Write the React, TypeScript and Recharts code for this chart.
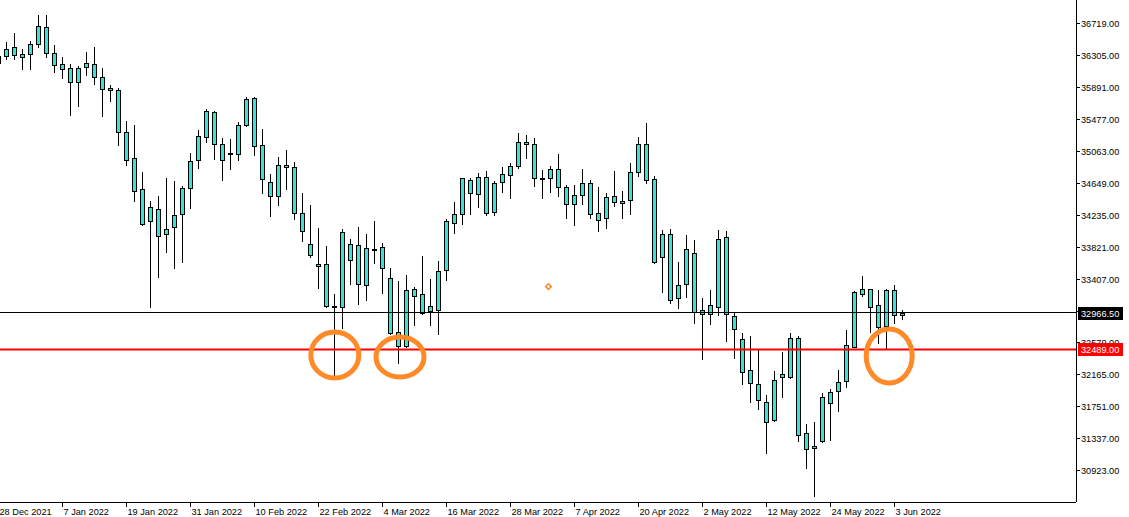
import React from 'react';
import { ComposedChart, Bar, XAxis, YAxis, ReferenceLine, ReferenceDot } from 'recharts';

const openPrices = [
  36200, 36287, 36404, 36275, 36313, 36676, 36663, 36326, 36184, 36132,
  35951, 36197, 36184, 36015, 35873, 35847, 35303, 34966, 34564, 34331,
  34305, 33981, 34072, 34240, 34577, 34940, 35575, 35562, 35147, 35018,
  35018, 35730, 35743, 35134, 34473, 34473, 34875, 34849, 34253, 33851,
  33592, 33592, 33042, 33035, 33851, 33838, 33320, 33790, 33812, 33411,
  32530, 32530, 33268, 33204, 32983, 32996, 33515, 34124, 34240, 34512,
  34719, 34719, 34266, 34655, 34745, 34862, 35173, 35147, 34702, 34823,
  34823, 34590, 34370, 34642, 34642, 34162, 34188, 34473, 34383, 34421,
  35147, 35147, 34694, 33981, 33981, 33152, 33786, 33735, 32944, 32944,
  33916, 33942, 32918, 32620, 32219, 32037, 31545, 31571, 32128, 32633,
  32633, 31402, 31208, 31299, 31791, 31947, 32076, 32525, 33268, 33268,
  32776, 32789, 33255, 32931,
];
const highPrices = [
  36310, 36473, 36589, 36378, 36482, 36823, 36823, 36434, 36278, 36188,
  36158, 36343, 36404, 36132, 35912, 35873, 35445, 35393, 34784, 34408,
  34473, 34707, 34668, 34603, 35031, 35329, 35601, 35575, 35225, 35212,
  35432, 35756, 35756, 35342, 34758, 34979, 35073, 34914, 34521, 34361,
  34059, 33829, 33204, 34046, 33916, 34072, 33981, 34150, 33864, 33540,
  33380, 33450, 33294, 33696, 33398, 33631, 34175, 34396, 34715, 34706,
  34771, 34797, 34668, 34849, 34901, 35290, 35264, 35225, 34810, 34862,
  35018, 34616, 34616, 34823, 34681, 34590, 34512, 34797, 34538, 34901,
  35238, 35419, 34733, 34033, 34046, 33618, 33968, 33903, 33152, 33255,
  34033, 34020, 32970, 32698, 32659, 32491, 31895, 32206, 32452, 32698,
  32659, 31519, 31545, 31921, 31972, 32219, 32737, 33242, 33441, 33275,
  33255, 33268, 33320, 32996,
];
const lowPrices = [
  36180, 36256, 36256, 36127, 36127, 36412, 36282, 36088, 36007, 35531,
  35643, 36049, 35932, 35514, 35712, 35142, 34883, 34416, 34100, 33035,
  33424, 33748, 33540, 33618, 34318, 34836, 35173, 34953, 34681, 34823,
  34940, 35380, 35005, 34512, 34214, 34357, 34564, 34175, 33898, 33683,
  33289, 33035, 32162, 32763, 33333, 33074, 33126, 33605, 33217, 32690,
  32310, 32520, 32802, 32950, 32802, 32685, 33385, 33994, 34111, 34240,
  34331, 34227, 34227, 34525, 34447, 34836, 34966, 34603, 34447, 34525,
  34473, 34188, 34098, 34370, 34188, 34020, 34059, 34344, 34188, 34240,
  34733, 34642, 33605, 33237, 33087, 33022, 33165, 32827, 32361, 32815,
  32931, 32594, 32374, 32037, 31804, 31713, 31143, 31560, 31869, 32120,
  31298, 30949, 30590, 31290, 31312, 31687, 31998, 32515, 33178, 32711,
  32568, 32504, 32828, 32879,
];
const closePrices = [
  36290, 36386, 36300, 36313, 36443, 36443, 36326, 36171, 36119, 35951,
  36132, 36145, 36015, 35860, 35847, 35303, 34940, 34538, 34111, 34150,
  33955, 34046, 34227, 34577, 34927, 35251, 35238, 35147, 34940, 35031,
  35393, 35393, 35121, 34694, 34655, 34875, 34849, 34253, 34020, 33709,
  33566, 33048, 33055, 34007, 33644, 33333, 33799, 33780, 33540, 32698,
  32711, 33255, 33178, 32957, 33048, 33501, 34150, 34240, 34706, 34681,
  34499, 34253, 34642, 34759, 34862, 35173, 35147, 34707, 34712, 34707,
  34590, 34370, 34486, 34486, 34240, 34253, 34460, 34396, 34408, 34784,
  34784, 34681, 33618, 33683, 33126, 33320, 33333, 32970, 32996, 33061,
  33035, 32944, 32750, 32193, 32050, 31830, 31804, 32089, 32167, 32128,
  31376, 31195, 31234, 31869, 31934, 32063, 32543, 33235, 33204, 33035,
  33061, 33255, 32931, 32966.5,
];

// Date labels shown under every 8th bar
const dateTickBars = [0, 8, 16, 24, 32, 40, 48, 56, 64, 72, 80, 88, 96, 104, 112];
const dateTickLabels = [
  '28 Dec 2021', '7 Jan 2022', '19 Jan 2022', '31 Jan 2022', '10 Feb 2022',
  '22 Feb 2022', '4 Mar 2022', '16 Mar 2022', '28 Mar 2022', '7 Apr 2022',
  '20 Apr 2022', '2 May 2022', '12 May 2022', '24 May 2022', '3 Jun 2022',
];

const priceTicks = [
  36719, 36305, 35891, 35477, 35063, 34649, 34235, 33821, 33407, 32993,
  32579, 32165, 31751, 31337, 30923,
];

const lastPrice = 32966.5;
const levelPrice = 32489;

// hand-drawn annotation ellipses (bar index, price)
const circleBars = [42.1, 50.25, 111.4];
const circlePrices = [32417, 32391, 32404];
const markerBar = 68.8;
const markerPrice = 33304;

const FONT = "'Liberation Sans', Arial, sans-serif";
const FONT_SIZE = 9.2;
const CANDLE_FILL = '#40E0D0';
const ORANGE = '#FF8A28';

const data = openPrices.map((o, i) => ({
  idx: i,
  range: [lowPrices[i], highPrices[i]],
  open: o,
  high: highPrices[i],
  low: lowPrices[i],
  close: closePrices[i],
}));

const Candle = (props: any) => {
  const { x, y, width, height, payload } = props;
  if (x == null || y == null || !payload) return null;
  const { high, low, open, close } = payload;
  const yTop = Math.min(y, y + height);
  const h = Math.abs(height);
  const px = (v: number) => (high === low ? yTop : yTop + ((high - v) / (high - low)) * h);
  const cx = Math.round(x + width / 2);
  const top = Math.round(px(Math.max(open, close)));
  const bot = Math.round(px(Math.min(open, close)));
  return (
    <g shapeRendering="crispEdges">
      <line x1={cx + 0.5} x2={cx + 0.5} y1={Math.round(yTop)} y2={Math.round(yTop + h) + 1} stroke="#000" strokeWidth={1} />
      <rect x={cx - 1.5} y={top + 0.5} width={4} height={Math.max(bot - top, 1)} fill={CANDLE_FILL} stroke="#000" strokeWidth={1} />
    </g>
  );
};

const XTick = (props: any) => {
  const { x, y, payload } = props;
  const k = dateTickBars.indexOf(payload.value);
  const label = k >= 0 ? dateTickLabels[k] : '';
  const xx = Math.round(x);
  return (
    <g>
      <line x1={xx + 0.5} x2={xx + 0.5} y1={y} y2={y + 5} stroke="#000" strokeWidth={1} shapeRendering="crispEdges" />
      <text x={xx + 1.5} y={y + 12.5} fontSize={FONT_SIZE} fontFamily={FONT} fill="#000" textAnchor="start">{label}</text>
    </g>
  );
};

const YTick = (props: any) => {
  const { x, y, payload } = props;
  const v = payload.value;
  const yy = Math.round(y);
  if (v === lastPrice || v === levelPrice) {
    const bg = v === lastPrice ? '#000' : '#FF0000';
    return (
      <g>
        <rect x={x + 2} y={yy - 6} width={45} height={13} fill={bg} shapeRendering="crispEdges" />
        <text x={x + 5} y={yy + 3.5} fontSize={FONT_SIZE} fontFamily={FONT} fill="#fff">{v.toFixed(2)}</text>
      </g>
    );
  }
  return (
    <g>
      <line x1={x} x2={x + 4} y1={yy + 0.5} y2={yy + 0.5} stroke="#000" strokeWidth={1} shapeRendering="crispEdges" />
      <text x={x + 5} y={yy + 3.5} fontSize={FONT_SIZE} fontFamily={FONT} fill="#000">{v.toFixed(2)}</text>
    </g>
  );
};

const makeEllipse = (rx: number, ry: number) => (p: any) => (
  <ellipse cx={p.cx} cy={p.cy} rx={rx} ry={ry} fill="none" stroke={ORANGE} strokeWidth={5} />
);
const ellipseSizes = [
  [24, 23],
  [24, 20],
  [23, 27],
];

const Marker = (p: any) => (
  <rect x={p.cx - 2} y={p.cy - 2} width={4} height={4} fill="#fff" stroke={ORANGE} strokeWidth={1.5} transform={`rotate(45 ${p.cx} ${p.cy})`} />
);

export default function App() {
  return (
    <div style={{ position: 'absolute', left: -2, top: 0, background: '#fff' }}>
      <ComposedChart width={1131} height={517} data={data} margin={{ top: 0, right: 0, bottom: 0, left: 0 }}>
        <XAxis
          dataKey="idx"
          type="number"
          domain={[0, 134.75]}
          allowDataOverflow
          ticks={dateTickBars}
          interval={0}
          tick={<XTick />}
          tickLine={false}
          tickSize={0}
          tickMargin={0}
          height={15}
          axisLine={{ stroke: '#000', shapeRendering: 'crispEdges' }}
        />
        <YAxis
          orientation="right"
          type="number"
          domain={[30512, 37017]}
          allowDataOverflow
          ticks={[...priceTicks, lastPrice, levelPrice]}
          interval={0}
          tick={<YTick />}
          tickLine={false}
          tickSize={0}
          tickMargin={0}
          width={53}
          axisLine={{ stroke: '#000', shapeRendering: 'crispEdges' }}
        />
        <Bar dataKey="range" barSize={4} shape={<Candle />} isAnimationActive={false} />
        <ReferenceLine y={lastPrice} stroke="#000" strokeWidth={1} shapeRendering="crispEdges" />
        <ReferenceLine y={levelPrice} stroke="#FF0000" strokeWidth={2} />
        {circleBars.map((b, i) => (
          <ReferenceDot key={i} x={b} y={circlePrices[i]} r={24} shape={makeEllipse(ellipseSizes[i][0], ellipseSizes[i][1])} />
        ))}
        <ReferenceDot x={markerBar} y={markerPrice} r={3} shape={Marker} />
      </ComposedChart>
    </div>
  );
}
